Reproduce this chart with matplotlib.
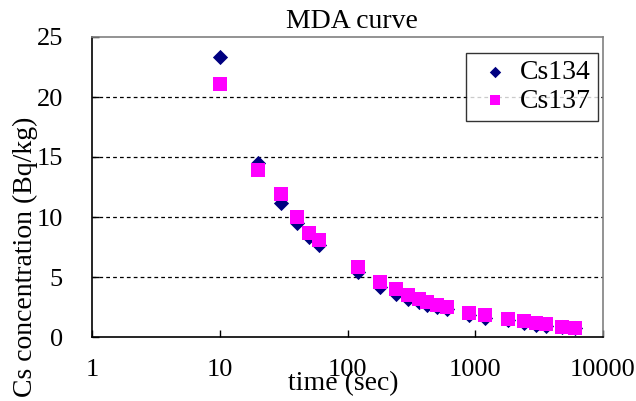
import matplotlib
matplotlib.use("Agg")
import matplotlib.pyplot as plt

plt.rcParams['font.family'] = ['Liberation Serif', 'DejaVu Serif']

time_sec = [10, 20, 30, 40, 50, 60, 120, 180, 240, 300, 360, 420, 500, 600,
            900, 1200, 1800, 2400, 3000, 3600, 4800, 6000]
cs134 = [23.3, 14.5, 11.2, 9.5, 8.3, 7.7, 5.4, 4.2, 3.6, 3.2, 2.9, 2.7, 2.5, 2.3,
         1.8, 1.6, 1.4, 1.2, 1.0, 0.9, 0.8, 0.75]
cs137 = [21.1, 13.95, 11.9, 10.0, 8.7, 8.1, 5.8, 4.6, 4.0, 3.5, 3.2, 2.9, 2.7, 2.5,
         2.0, 1.8, 1.5, 1.3, 1.15, 1.05, 0.85, 0.78]
series_names = ["Cs134", "Cs137"]
x_ticks = [1, 10, 100, 1000, 10000]
x_tick_labels = ["1", "10", "100", "1000", "10000"]
y_ticks = [0, 5, 10, 15, 20, 25]

W, H = 636, 401
fig = plt.figure(figsize=(W / 100, H / 100), dpi=100)
ax = fig.add_axes([92 / W, (H - 337) / H, 511 / W, 300 / H])

ax.scatter(time_sec, cs134, marker='D', s=60, color='#000080', label=series_names[0], zorder=3, linewidths=0)
ax.scatter(time_sec, cs137, marker='s', s=88, color='#FF00FF', label=series_names[1], zorder=4, linewidths=0)

ax.set_xscale('log')
ax.set_xlim(1, 10000)
ax.set_ylim(0, 25)
ax.set_xticks(x_ticks)
ax.set_xticklabels(x_tick_labels)
ax.minorticks_off()
ax.set_yticks(y_ticks)
ax.tick_params(axis='both', labelsize=19, direction='in', length=5, width=1)
ax.tick_params(axis='x', pad=16)
ax.tick_params(axis='y', pad=21)
for lbl in ax.get_xticklabels()[-1:]:
    lbl.set_x(lbl.get_position()[0])

for v in [5, 10, 15, 20]:
    ax.axhline(v, color='black', linestyle=(0, (3, 2.5)), linewidth=0.9, zorder=1)

for side in ['left', 'bottom']:
    ax.spines[side].set_color('black')
    ax.spines[side].set_linewidth(1.2)
for side in ['top', 'right']:
    ax.spines[side].set_color('#808080')
    ax.spines[side].set_linewidth(1.2)

fig.text(352 / W, 1 - 22 / H, "MDA curve", ha='center', va='center', fontsize=20)
fig.text(343 / W, 1 - 384 / H, "time (sec)", ha='center', va='center', fontsize=20)
fig.text(25 / W, 1 - 257 / H, "Cs concentration (Bq/kg)", ha='center', va='center',
         rotation=90, fontsize=20)

leg = ax.legend(loc='upper right', bbox_to_anchor=((598 - 92) / 511, (337 - 53) / 300),
                bbox_transform=ax.transAxes, fontsize=20, frameon=True, fancybox=False,
                edgecolor='black', handletextpad=0.1, borderpad=0.25, labelspacing=0.1,
                handlelength=1.6, borderaxespad=0, markerscale=0.75)
leg.get_frame().set_linewidth(1.0)

fig.savefig("out.png", dpi=100)
